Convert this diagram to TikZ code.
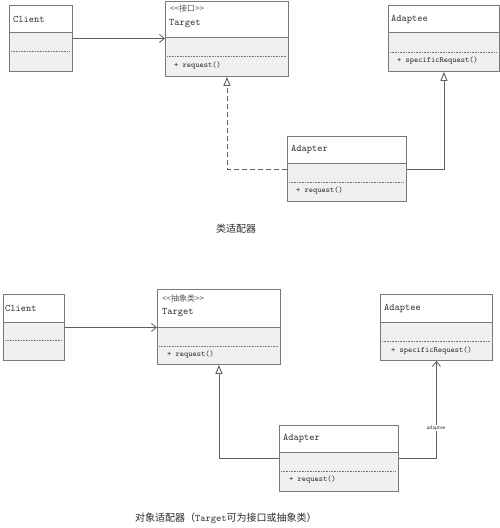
\documentclass[tikz,border=0pt]{standalone}
\usepackage{fontspec}
\newfontfamily\cjk{Noto Sans CJK SC}
\usetikzlibrary{arrows.meta}
\definecolor{boxline}{RGB}{120,120,120}
\definecolor{bodyfill}{RGB}{240,240,240}
\definecolor{txt}{RGB}{45,45,45}
\definecolor{conn}{RGB}{95,95,95}
\tikzset{
  classbox/.style={draw=boxline, line width=0.9pt, inner sep=0pt, anchor=north west},
  divline/.style={draw=boxline, line width=0.9pt},
  dotline/.style={draw=boxline, line width=0.6pt, dash pattern=on 0.8pt off 0.8pt},
  titletext/.style={anchor=west, inner sep=0pt, text=txt, font=\ttfamily\fontsize{10}{12}\selectfont},
  stereotext/.style={anchor=west, inner sep=0pt, text=txt!80, font=\cjk\fontsize{8}{9}\selectfont},
  membertext/.style={anchor=west, inner sep=0pt, text=txt, font=\ttfamily\fontsize{8}{9}\selectfont},
  captiontext/.style={inner sep=0pt, text=txt, font=\cjk\fontsize{10}{12}\selectfont},
  assoc/.style={draw=conn, line width=0.8pt, -{Straight Barb[length=5pt,width=8pt]}},
  realize/.style={draw=conn, line width=0.9pt, dash pattern=on 5pt off 3pt, -{Triangle[open,length=9pt,width=7pt]}},
  inherit/.style={draw=conn, line width=0.9pt, -{Triangle[open,length=9pt,width=7pt]}},
  lbl/.style={fill=white, inner sep=1pt, text=txt, font=\sffamily\fontsize{5.5}{6}\selectfont}
}
\newcommand\umlclass[7]{%
  \fill[white] (#2,#3) rectangle (#4,#6);
  \fill[bodyfill] (#2,#6) rectangle (#4,#5);
  \draw[dotline] (#2+2,#7) -- (#4-2,#7);
  \draw[divline] (#2,#6) -- (#4,#6);
  \node[classbox, minimum width=#4pt-#2pt, minimum height=#5pt-#3pt] (#1) at (#2,#3) {};
}
\begin{document}
\begin{tikzpicture}[x=1pt,y=-1pt]
\useasboundingbox[fill=white] (0,0) rectangle (500,528);

% ---------- class adapter ----------
\umlclass{clientA}{9}{5}{72}{71}{32}{51}
\node[titletext] (clientAt) at (13,19) {Client};

\umlclass{targetA}{165}{0.5}{288}{76}{37}{56}
\node[stereotext] (targetAs) at (170,8) {<<接口>>};
\node[titletext] (targetAt) at (169,24) {Target};
\node[membertext] (targetAm) at (174,66) {+ request()};

\umlclass{adapteeA}{388}{5}{499}{71}{32}{52}
\node[titletext] (adapteeAt) at (391,19) {Adaptee};
\node[membertext] (adapteeAm) at (397,61) {+ specificRequest()};

\umlclass{adapterA}{287}{136}{406}{201}{163}{182}
\node[titletext] (adapterAt) at (291,149) {Adapter};
\node[membertext] (adapterAm) at (296,191) {+ request()};

\draw[assoc] (clientA.east) -- (clientA.east -| targetA.west);
\draw[realize] (adapterA.west) -| (targetA.south);
\draw[inherit] (adapterA.east) -| (adapteeA.south);

\node[captiontext] (capA) at (236,229) {类适配器};

% ---------- object adapter ----------
\umlclass{clientB}{3}{294}{64}{360}{322}{340}
\node[titletext] (clientBt) at (5,308) {Client};

\umlclass{targetB}{157}{289}{280}{364}{327}{346}
\node[stereotext] (targetBs) at (162,298) {<<抽象类>>};
\node[titletext] (targetBt) at (162,313) {Target};
\node[membertext] (targetBm) at (167,355) {+ request()};

\umlclass{adapteeB}{380}{294}{492}{360}{322}{341}
\node[titletext] (adapteeBt) at (384,308) {Adaptee};
\node[membertext] (adapteeBm) at (391,351) {+ specificRequest()};

\umlclass{adapterB}{279}{425}{398}{491}{452}{471}
\node[titletext] (adapterBt) at (283,438) {Adapter};
\node[membertext] (adapterBm) at (289,480) {+ request()};

\draw[assoc] (clientB.east) -- (clientB.east -| targetB.west);
\draw[inherit] (adapterB.west) -| (targetB.south);
\draw[assoc] (adapterB.east) -| (adapteeB.south);
\node[lbl] (adlbl) at (436,428) {adaptee};

\node[captiontext, anchor=west] (capB) at (135,518) {对象适配器（{\ttfamily Target}可为接口或抽象类）};
\end{tikzpicture}
\end{document}
